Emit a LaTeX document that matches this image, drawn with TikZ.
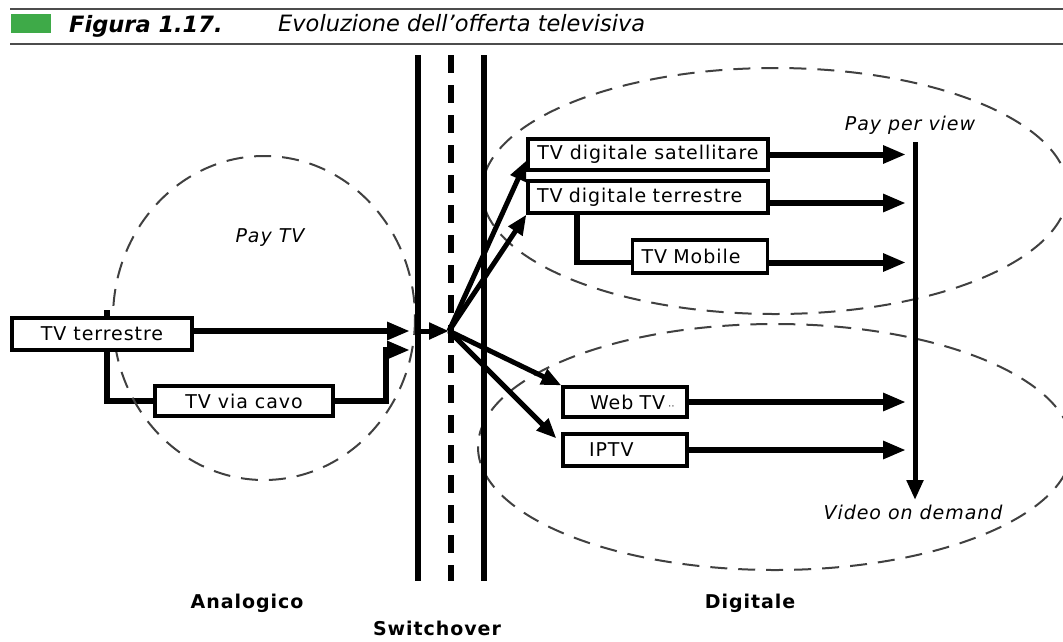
\documentclass[tikz,border=0pt]{standalone}
\usepackage{fontspec}
\setmainfont{DejaVu Sans}[LetterSpace=5]
\newfontfamily\titlefont{DejaVu Sans}
\usepackage{tikz}
\usetikzlibrary{arrows.meta, backgrounds}
\definecolor{figgreen}{RGB}{62,170,72}

\begin{document}
\begin{tikzpicture}[x=1pt, y=-1pt, font=\fontsize{19}{22}\selectfont,
  box/.style={draw, fill=white, line width=3.2pt, minimum height=31pt, inner ysep=0pt},
  arr/.style={line width=6pt, -{Triangle[length=23pt, width=17pt]}},
  ray/.style={line width=5pt, -{Triangle[length=20pt, width=16pt]}},
  link/.style={line width=5.5pt},
  area/.style={draw=black!75, line width=2pt, dash pattern=on 17pt off 11pt}]
\useasboundingbox (0, 0) rectangle (1063, 641);
% titolo
\fill[figgreen] (11, 14) rectangle (51, 33);
\draw[black!70, line width=2pt] (10, 9) -- (1063, 9);
\draw[black!70, line width=2pt] (10, 44) -- (1063, 44);
\node[anchor=base west, inner sep=0pt, font=\titlefont\fontsize{22.5}{24}\selectfont\bfseries\itshape] (fig) at (69, 32) {Figura 1.17.};
\node[anchor=base west, inner sep=0pt, font=\titlefont\fontsize{22.5}{24}\selectfont\itshape] (titolo) at (278, 31) {Evoluzione dell’offerta televisiva};
% aree
\begin{scope}
\clip (0, 0) rectangle (1063, 641);
\draw[area] (264, 318) ellipse [x radius=151, y radius=162];
\draw[area] (775, 191) ellipse [x radius=293, y radius=123];
\draw[area] (775, 447) ellipse [x radius=297, y radius=123];
\end{scope}
% switchover
\coordinate (l1top) at (418, 55);
\coordinate (l1bot) at (418, 581);
\coordinate (l2top) at (451, 55);
\coordinate (l2bot) at (451, 581);
\coordinate (l3top) at (484, 55);
\coordinate (l3bot) at (484, 581);
\draw[line width=6pt] (l1top) -- (l1bot);
\draw[line width=6pt, dash pattern=on 18pt off 12pt] (l2top) -- (l2bot);
\draw[line width=6pt] (l3top) -- (l3bot);
\coordinate (in1) at (410, 331);
\coordinate (in2) at (410, 350);
\coordinate (hub) at (449, 331);
\coordinate (endx) at (906, 0);
\coordinate (ppvtop) at (915, 142);
\coordinate (vodbot) at (915, 500);
% offerta
\node[box, minimum width=180pt, minimum height=32pt] (tvterr) at (102, 334) {TV terrestre};
\node[box, minimum width=178pt, minimum height=30pt] (tvcavo) at (244, 401) {TV via cavo};
\node[box, minimum width=240pt] (sat) at (648, 154.5) {TV digitale satellitare};
\node[box, text width=222pt, align=left, inner xsep=9pt, minimum height=32pt] (dterr) at (648, 197) {TV digitale terrestre};
\node[box, text width=117pt, align=left, inner xsep=9pt, minimum height=33pt] (mobile) at (700, 256.5) {TV Mobile};
\node[box, text width=70pt, align=left, inner xsep=27pt, minimum height=30pt] (webtv) at (625, 402) {\mbox{Web TV\,{\fontsize{9}{9}\selectfont ··}}};
\node[box, text width=72pt, align=left, inner xsep=26pt, minimum height=32pt] (iptv) at (625, 450) {IPTV};
\node (paytv) at (270, 238) {\itshape Pay TV};
\node (ppv) at (910, 125) {\itshape Pay per view};
\node (vod) at (913, 512) {\itshape Video on demand};
\node (analog) at (247, 603) {\bfseries Analogico};
\node (switch) at (437, 628) {\bfseries Switchover};
\node (digit) at (750, 603) {\bfseries Digitale};
% collegamenti
\begin{scope}[on background layer]
\draw[link] ([xshift=5pt, yshift=6pt]tvterr.north) |- (tvcavo.west);
\draw[link] ([xshift=-71pt]dterr.south) |- ([yshift=-6pt]mobile.west);
\end{scope}
\draw[arr] ([yshift=3pt]tvterr.east) -- (in1);
\draw[arr] (tvcavo.east) -| ([xshift=-24pt]in2) -- (in2);
\draw[ray] (hub -| l1top) -- (hub);
\draw[ray] (hub) -- ([yshift=-6pt]sat.west);
\draw[ray] (hub) -- (dterr.south west);
\draw[ray] (hub) -- (webtv.north west);
\draw[ray] (hub) -- ([xshift=-5pt, yshift=-6pt]iptv.north west);
\draw[arr] (sat.east) -- (sat.east -| endx);
\draw[arr] ([yshift=-6pt]dterr.east) -- ([yshift=-6pt]dterr.east -| endx);
\draw[arr] ([yshift=-6pt]mobile.east) -- ([yshift=-6pt]mobile.east -| endx);
\draw[arr] (webtv.east) -- (webtv.east -| endx);
\draw[arr] (iptv.east) -- (iptv.east -| endx);
\draw[ray] (ppvtop) -- (vodbot);
\end{tikzpicture}
\end{document}
